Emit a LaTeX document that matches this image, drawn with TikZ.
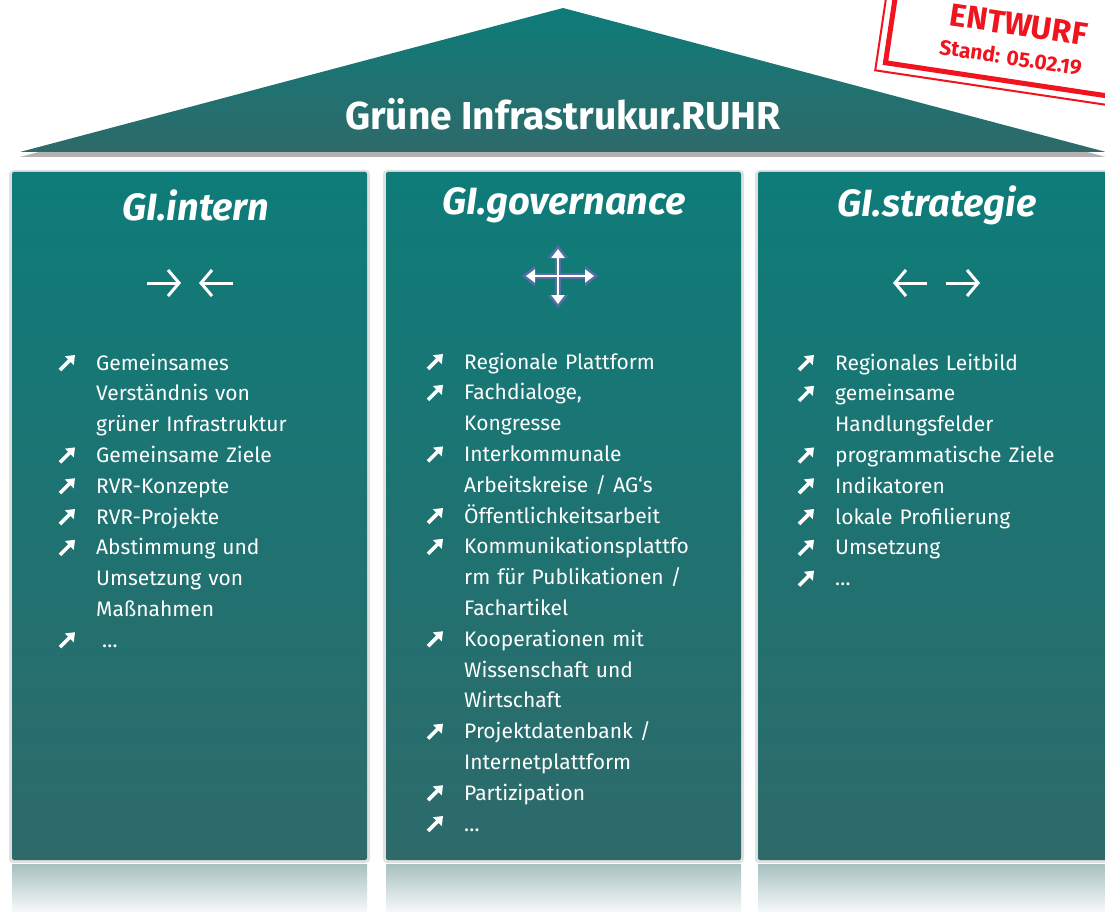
\documentclass[tikz,border=0pt]{standalone}
\usepackage{fontspec}
\setmainfont{Fira Sans}
\usepackage{tikz}
\usetikzlibrary{arrows.meta}
\definecolor{gitop}{RGB}{14,124,121}
\definecolor{gibottom}{RGB}{46,106,106}
\definecolor{stampred}{RGB}{240,20,30}
\definecolor{crossblue}{RGB}{85,110,165}
\tikzstyle{roof} = [top color=gitop, bottom color=gibottom]
\tikzstyle{column} = [top color=gitop, bottom color=gibottom, rounded corners=2pt]
\tikzstyle{colshadow} = [fill=black, opacity=0.12, rounded corners=4pt]
\tikzstyle{mirror} = [top color=gibottom!42!white, bottom color=gibottom!4!white]
\tikzstyle{title} = [text=white, font={\fontsize{39}{44}\selectfont\bfseries}]
\tikzstyle{heading} = [text=white, font={\fontsize{38}{44}\selectfont\bfseries\itshape}]
\tikzstyle{itemlist} = [anchor=north west, inner sep=0pt, text width=300pt, align=left, text=white, font={\fontsize{21}{30.8}\selectfont}]
\tikzstyle{pointer} = [draw=white, line width=3pt, -{Straight Barb[length=11pt,width=26pt]}]
\tikzstyle{crossglow} = [draw=crossblue, line width=6pt, {Triangle[length=13pt,width=20pt]}-{Triangle[length=13pt,width=20pt]}]
\tikzstyle{cross} = [draw=white, line width=2pt, {Triangle[length=9pt,width=13pt]}-{Triangle[length=9pt,width=13pt]}]
\tikzstyle{stamptext} = [text=stampred, inner sep=0pt, font=\bfseries]
\newcommand{\gimark}{\tikz[x=1pt,y=1pt,baseline=0pt]\draw[white,line width=3.6pt,-{Triangle[length=8pt,width=12pt]}](0,0)--(15,15);}
\newcommand{\gi}[1]{\par\hangindent=38pt\hangafter=1\noindent\makebox[38pt][l]{\gimark}#1}

\begin{document}
\begin{tikzpicture}[x=1pt,y=-1pt]
    \useasboundingbox (0,0) rectangle (1105,912);
    \clip (0,0) rectangle (1105,912);
    \fill[white] (0,0) rectangle (1105,912);
    % roof
    \fill[black,opacity=0.3] (20,157) -- (563,12) -- (1106,157) -- cycle;
    \shade[roof] (20,152) -- (563,8) -- (1106,152) -- cycle;
    \node[title](roof) at (563,114){Grüne Infrastrukur.RUHR};
    % columns
    \fill[colshadow] (9,170) rectangle (370,863);
    \shade[column] (12,172) rectangle (367,860);
    \shade[mirror] (12,864) rectangle (367,912);
    \fill[colshadow] (383,170) rectangle (744,863);
    \shade[column] (386,172) rectangle (741,860);
    \shade[mirror] (386,864) rectangle (741,912);
    \fill[colshadow] (755,170) rectangle (1116,863);
    \shade[column] (758,172) rectangle (1113,860);
    \shade[mirror] (758,864) rectangle (1113,912);
    % headings
    \node[heading](intern) at (196,205){GI.intern};
    \node[heading](governance) at (564,205){GI.governance};
    \node[heading](strategie) at (937,205){GI.strategie};
    % icons
    \draw[pointer] (147,283) -- (181,283);
    \draw[pointer] (233,283) -- (199,283);
    \draw[crossglow] (522,276) -- (598,276);
    \draw[crossglow] (558,245) -- (558,308);
    \draw[cross] (526,276) -- (594,276);
    \draw[cross] (558,249) -- (558,304);
    \draw[pointer] (927,283) -- (893,283);
    \draw[pointer] (946,283) -- (980,283);
    % lists
    \node[itemlist](internlist) at (58,339){%
        \gi{Gemeinsames\newline Verständnis von\newline grüner Infrastruktur}
        \gi{Gemeinsame Ziele}
        \gi{RVR-Konzepte}
        \gi{RVR-Projekte}
        \gi{Abstimmung und\newline Umsetzung von\newline Maßnahmen}
        \gi{\hspace{6pt}…}};
    \node[itemlist](governancelist) at (426,338){%
        \gi{Regionale Plattform}
        \gi{Fachdialoge,\newline Kongresse}
        \gi{Interkommunale\newline Arbeitskreise / AG‘s}
        \gi{Öffentlichkeitsarbeit}
        \gi{Kommunikationsplattfo\newline rm für Publikationen /\newline Fachartikel}
        \gi{Kooperationen mit\newline Wissenschaft und\newline Wirtschaft}
        \gi{Projektdatenbank /\newline Internetplattform}
        \gi{Partizipation}
        \gi{…}};
    \node[itemlist](strategielist) at (797,339){%
        \gi{Regionales Leitbild}
        \gi{gemeinsame\newline Handlungsfelder}
        \gi{programmatische Ziele}
        \gi{Indikatoren}
        \gi{lokale Profilierung}
        \gi{Umsetzung}
        \gi{…}};
    % stamp
    \begin{scope}[shift={(1010,48)}, rotate=-8.5, transform shape]
        \fill[white] (-130,-100) rectangle (150,42);
        \draw[stampred, line width=2pt] (-130,-100) rectangle (150,42);
        \draw[stampred, line width=5pt] (-121,-91) rectangle (141,33);
        \node[stamptext, font={\fontsize{32}{36}\selectfont\bfseries}](entwurf) at (5,-24){ENTWURF};
        \node[stamptext, font={\fontsize{21}{24}\selectfont\bfseries}](stand) at (2,9){Stand: 05.02.19};
    \end{scope}
\end{tikzpicture}
\end{document}
